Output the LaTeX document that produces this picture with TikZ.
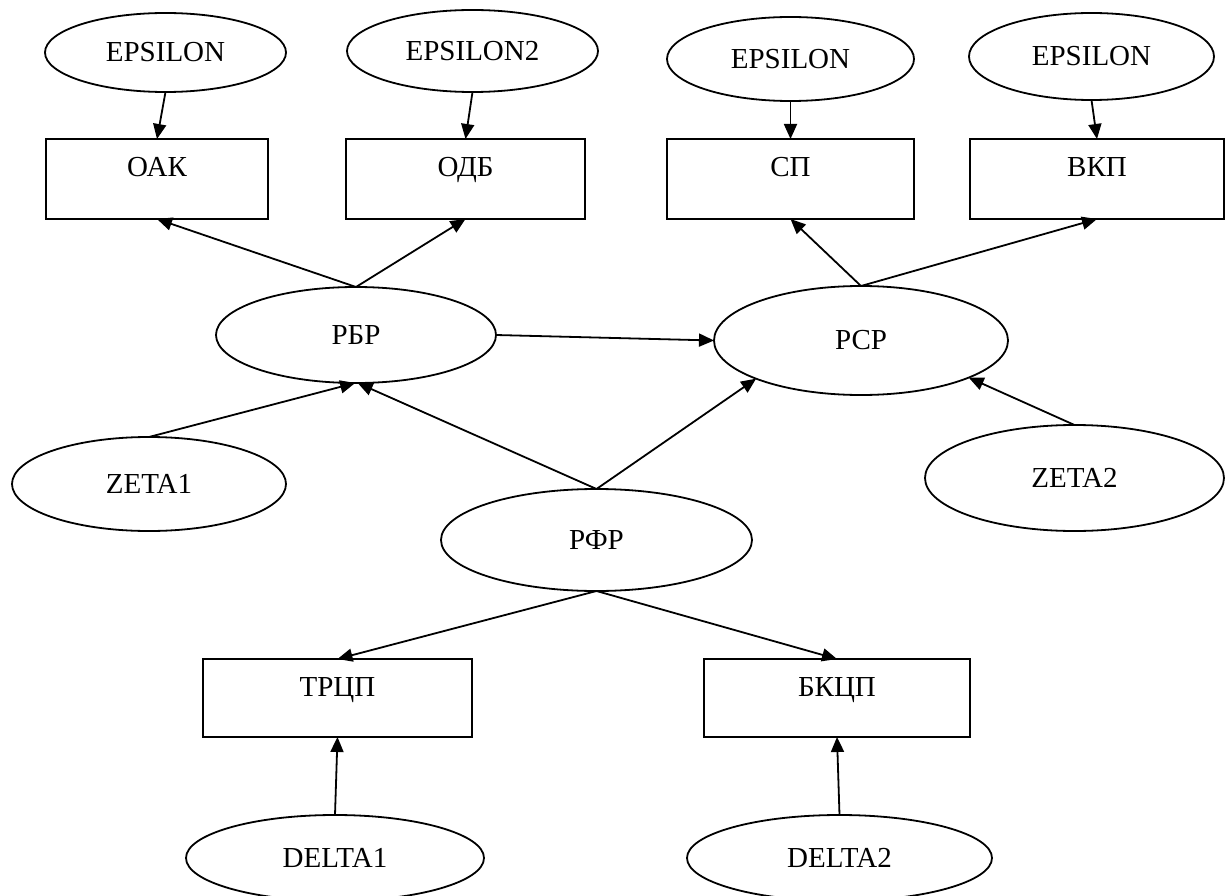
\documentclass[tikz,border=0pt]{standalone}
\usepackage{fontspec}
\setmainfont{Liberation Serif}
\usetikzlibrary{shapes.geometric,arrows.meta}
\begin{document}
\begin{tikzpicture}[x=1pt,y=-1pt,
  every node/.style={font=\fontsize{29}{32}\selectfont, inner sep=0pt, outer sep=0pt, line width=1.8pt},
  ell/.style={draw, ellipse},
  box/.style={draw, rectangle, text height=20pt, text depth=24pt},
  arr/.style={line width=1.8pt, -{Triangle[length=15pt,width=13pt]}}]
\useasboundingbox (0,0) rectangle (1226,896);
% top row
\node[ell, minimum width=241pt, minimum height=79pt] (e1) at (165.5,52.5) {EPSILON};
\node[ell, minimum width=251pt, minimum height=82pt] (e2) at (472.5,51) {EPSILON2};
\node[ell, minimum width=247pt, minimum height=84pt] (e3) at (790.5,59) {EPSILON};
\node[ell, minimum width=245pt, minimum height=87pt] (e4) at (1091.5,56.5) {EPSILON};
% boxes
\node[box, minimum width=222pt, minimum height=80pt] (oak) at (157,179) {ОАК};
\node[box, minimum width=239pt, minimum height=80pt] (odb) at (465.5,179) {ОДБ};
\node[box, minimum width=247pt, minimum height=80pt] (sp) at (790.5,179) {СП};
\node[box, minimum width=254pt, minimum height=80pt] (vkp) at (1097,179) {ВКП};
% middle
\node[ell, minimum width=280pt, minimum height=96pt] (rbr) at (356,335) {РБР};
\node[ell, minimum width=294pt, minimum height=109pt] (rsp) at (861,340.5) {РСР};
\node[ell, minimum width=274pt, minimum height=94pt] (z1) at (149,484) {ZETA1};
\node[ell, minimum width=299pt, minimum height=106pt] (z2) at (1074.5,478) {ZETA2};
\node[ell, minimum width=311pt, minimum height=102pt] (rfr) at (596.5,540) {РФР};
% bottom
\node[box, minimum width=269pt, minimum height=78pt] (trcp) at (337.5,698) {ТРЦП};
\node[box, minimum width=266pt, minimum height=78pt] (bkcp) at (837,698) {БКЦП};
\node[ell, minimum width=298pt, minimum height=86pt] (d1) at (335,858) {DELTA1};
\node[ell, minimum width=305pt, minimum height=86pt] (d2) at (839.5,858) {DELTA2};
% connectors
\draw[arr] (e1.south) -- (oak.north);
\draw[arr] (e2.south) -- (odb.north);
\draw[arr] (e3.south) -- (sp.north);
\draw[arr] (e4.south) -- (vkp.north);
\draw[arr] (rbr.north) -- (oak.south);
\draw[arr] (rbr.north) -- (odb.south);
\draw[arr] (rsp.north) -- (sp.south);
\draw[arr] (rsp.north) -- (vkp.south);
\draw[arr] (rbr.east) -- (rsp.west);
\draw[arr] (z1.north) -- (rbr.-91);
\draw[arr] (rfr.north) -- (rbr.-88);
\draw[arr] (rfr.north) -- (rsp.200);
\draw[arr] (z2.north) -- (rsp.-19);
\draw[arr] (rfr.south) -- (trcp.north);
\draw[arr] (rfr.south) -- (bkcp.north);
\draw[arr] (d1.north) -- (trcp.south);
\draw[arr] (d2.north) -- (bkcp.south);
\end{tikzpicture}
\end{document}
